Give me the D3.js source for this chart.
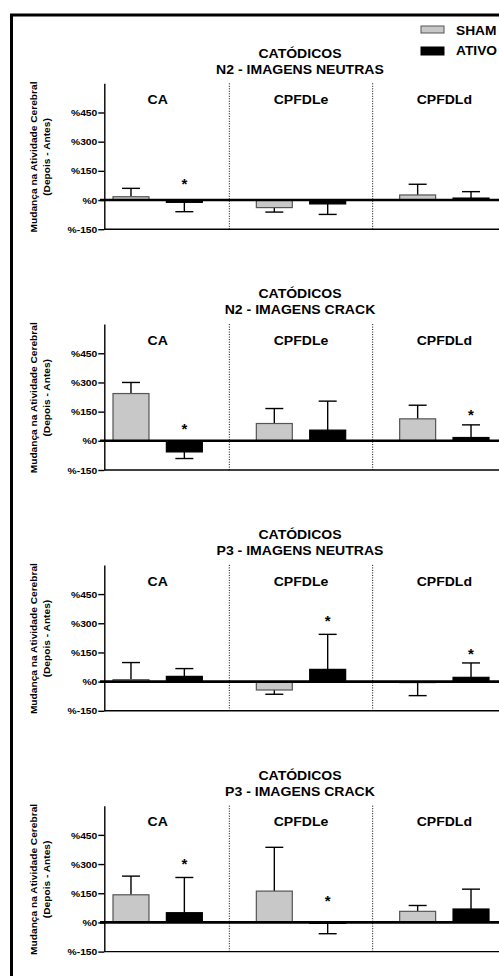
<!DOCTYPE html>
<html>
<head>
<meta charset="utf-8">
<script src="https://cdn.jsdelivr.net/npm/d3@7"></script>
<style>
  body { margin: 0; background: #fff; }
  svg text { font-family: "Liberation Sans", Arial, sans-serif; font-weight: bold; fill: #000; }
</style>
</head>
<body>
<svg id="chart" width="499" height="976"></svg>
<script>
// regions and groups
const groups = ['CA', 'CPFDLe', 'CPFDLd'];
const series = ['SHAM', 'ATIVO'];
const panelTitles = ['N2 - IMAGENS NEUTRAS', 'N2 - IMAGENS CRACK', 'P3 - IMAGENS NEUTRAS', 'P3 - IMAGENS CRACK'];
const yTicks = [-150, 0, 150, 300, 450];

// mean change (%) per panel, one value per group
const shamMeans = [[17, -39, 26], [243, 89, 113], [10, -43, -5], [142, 161, 57]];
const shamErrors = [[43, 23, 55], [57, 77, 70], [88, 22, 67], [96, 225, 30]];
const ativoMeans = [[-12, -20, 10], [-57, 55, 17], [27, 63, 22], [50, -5, 69]];
const ativoErrors = [[48, 54, 33], [34, 149, 65], [40, 180, 74], [181, 53, 102]];
// asterisk height (value) over ATIVO bars, null = no mark
const ativoStars = [[98, null, null], [75, null, 149], [null, 326, 158], [317, 125, null]];

const stretch = 1.08;
const panelStep = 240.8;

const svg = d3.select('#chart');

function widen(sel, k) {
  sel.each(function () {
    const len = this.getComputedTextLength();
    d3.select(this).attr('textLength', len * (k || stretch)).attr('lengthAdjust', 'spacingAndGlyphs');
  });
}

// outer frame
svg.append('rect')
  .attr('x', 11.5).attr('y', 15)
  .attr('width', 600).attr('height', 1000)
  .attr('fill', 'none').attr('stroke', '#000').attr('stroke-width', 3);

// legend
const legend = svg.append('g');
series.forEach((s, i) => {
  legend.append('rect')
    .attr('x', 421).attr('y', 26 + i * 21)
    .attr('width', 23).attr('height', 7 + i)
    .attr('fill', i ? '#000' : '#c8c8c8')
    .attr('stroke', i ? '#000' : '#555').attr('stroke-width', 1);
  legend.append('text')
    .attr('x', 456).attr('y', 34.5 + i * 20.5)
    .attr('font-size', 12.5)
    .text(s)
    .call(widen, 1.1);
});

const x = d3.scaleBand().domain(groups).range([86, 516]);
const xs = d3.scaleBand().domain(series).range([0, x.bandwidth()])
  .paddingInner(0.326).paddingOuter(0.506);
const y = d3.scaleLinear().domain([-150, 600]).range([229.2, 83.3]);

panelTitles.forEach((title, p) => {
  const g = svg.append('g').attr('transform', `translate(0, ${p * panelStep})`);

  g.append('text').attr('x', 300).attr('y', 57.5).attr('text-anchor', 'middle')
    .attr('font-size', 13).text('CATÓDICOS').call(widen);
  g.append('text').attr('x', 300).attr('y', 73.5).attr('text-anchor', 'middle')
    .attr('font-size', 13).text(title).call(widen);

  // y label
  g.append('text').attr('transform', 'translate(37, 157) rotate(-90)')
    .attr('text-anchor', 'middle').attr('font-size', 9.5)
    .text('Mudança na Atividade Cerebral').call(widen, 1.07);
  g.append('text').attr('transform', 'translate(49.5, 157) rotate(-90)')
    .attr('text-anchor', 'middle').attr('font-size', 9.5)
    .text('(Depois - Antes)').call(widen, 1.07);

  // region separators
  g.selectAll('.sep')
    .data(groups.slice(1))
    .enter().append('line')
    .attr('x1', (d) => x(d)).attr('x2', (d) => x(d))
    .attr('y1', y(600)).attr('y2', y(-150))
    .attr('stroke', '#000').attr('stroke-width', 1).attr('stroke-dasharray', '1,1.5');

  g.selectAll('.glabel')
    .data(groups)
    .enter().append('text')
    .attr('x', (d) => x(d) + x.bandwidth() / 2)
    .attr('y', 104)
    .attr('text-anchor', 'middle')
    .attr('font-size', 13)
    .text((d) => d)
    .call(widen);

  const rows = [];
  groups.forEach((grp, i) => {
    rows.push({ grp, s: 'SHAM', v: shamMeans[p][i], e: shamErrors[p][i], star: null });
    rows.push({ grp, s: 'ATIVO', v: ativoMeans[p][i], e: ativoErrors[p][i], star: ativoStars[p][i] });
  });

  const cx = (d) => x(d.grp) + xs(d.s) + xs.bandwidth() / 2;
  const tip = (d) => y(d.v + (d.v < 0 ? -d.e : d.e));

  // error bars
  const eb = g.selectAll('.err').data(rows).enter().append('g');
  eb.append('line')
    .attr('x1', cx).attr('x2', cx)
    .attr('y1', (d) => y(d.v)).attr('y2', tip)
    .attr('stroke', '#000').attr('stroke-width', 1.4);
  eb.append('line')
    .attr('x1', (d) => cx(d) - 9).attr('x2', (d) => cx(d) + 9)
    .attr('y1', tip).attr('y2', tip)
    .attr('stroke', '#000').attr('stroke-width', 1.4);

  g.selectAll('.bar').data(rows).enter().append('rect')
    .attr('x', (d) => x(d.grp) + xs(d.s))
    .attr('width', xs.bandwidth())
    .attr('y', (d) => y(Math.max(0, d.v)))
    .attr('height', (d) => Math.abs(y(d.v) - y(0)))
    .attr('fill', (d) => d.s === 'SHAM' ? '#c8c8c8' : '#000')
    .attr('stroke', (d) => d.s === 'SHAM' ? '#555' : '#000')
    .attr('stroke-width', 1.2);

  g.selectAll('.star').data(rows.filter((d) => d.star !== null)).enter().append('text')
    .attr('x', cx)
    .attr('y', (d) => y(d.star) + 8)
    .attr('text-anchor', 'middle')
    .attr('font-size', 15)
    .text('*');

  // axes
  const axis = g.append('g')
    .attr('transform', 'translate(104.3, 0)')
    .call(d3.axisLeft(y).tickValues(yTicks).tickFormat((d) => '%' + d).tickSize(6).tickSizeOuter(0).tickPadding(1));
  axis.select('.domain').attr('stroke-width', 1.4);
  axis.selectAll('.tick line').attr('stroke-width', 1.4);
  axis.selectAll('.tick text')
    .attr('font-size', 9.8)
    .attr('font-family', null)
    .call(widen, 1.05);

  g.append('line')
    .attr('x1', 104.3).attr('x2', 510)
    .attr('y1', y(-150)).attr('y2', y(-150))
    .attr('stroke', '#000').attr('stroke-width', 1.4);
  g.append('line')
    .attr('x1', 100).attr('x2', 510)
    .attr('y1', y(0)).attr('y2', y(0))
    .attr('stroke', '#000').attr('stroke-width', 2.6);
});
</script>
</body>
</html>
